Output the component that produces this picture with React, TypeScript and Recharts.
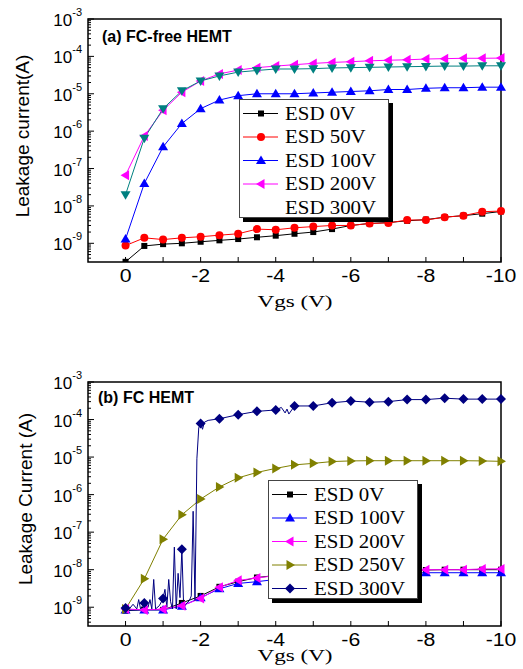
import React from 'react';
import { LineChart, Line, XAxis, YAxis, ReferenceArea, Legend } from 'recharts';

// gate sweep, V
const vgs = [0, -0.5, -1, -1.5, -2, -2.5, -3, -3.5, -4, -4.5, -5, -5.5, -6, -6.5, -7, -7.5, -8, -8.5, -9, -9.5, -10];

// (a) FC-free HEMT, leakage current in A
const freeEsd0 = [3.2e-10, 8.5e-10, 9.5e-10, 1.0e-9, 1.1e-9, 1.2e-9, 1.3e-9, 1.45e-9, 1.6e-9, 1.8e-9, 2.0e-9, 2.4e-9, 3.0e-9, 3.4e-9, 3.6e-9, 4.0e-9, 4.3e-9, 5.0e-9, 5.5e-9, 6.2e-9, 7.1e-9];
const freeEsd50 = [8.7e-10, 1.4e-9, 1.26e-9, 1.4e-9, 1.5e-9, 1.65e-9, 1.8e-9, 2.4e-9, 2.3e-9, 2.6e-9, 2.8e-9, 3.0e-9, 3.0e-9, 3.4e-9, 3.5e-9, 4.2e-9, 4.2e-9, 5.0e-9, 5.5e-9, 7.0e-9, 7.3e-9];
const freeEsd100 = [1.3e-9, 4.0e-8, 3.8e-7, 1.6e-6, 4.0e-6, 6.8e-6, 8.9e-6, 1.0e-5, 1.0e-5, 1.0e-5, 1.05e-5, 1.1e-5, 1.15e-5, 1.2e-5, 1.3e-5, 1.3e-5, 1.4e-5, 1.45e-5, 1.45e-5, 1.5e-5, 1.5e-5];
const freeEsd200 = [6.6e-8, 7.4e-7, 3.6e-6, 1.1e-5, 2.2e-5, 3.4e-5, 4.3e-5, 5.0e-5, 5.5e-5, 6.0e-5, 6.5e-5, 6.9e-5, 7.2e-5, 7.6e-5, 7.9e-5, 8.1e-5, 8.5e-5, 8.7e-5, 8.9e-5, 8.9e-5, 9.0e-5];
const freeEsd300 = [2.0e-8, 6.5e-7, 4.0e-6, 1.2e-5, 2.2e-5, 3.0e-5, 3.8e-5, 4.2e-5, 4.6e-5, 4.6e-5, 4.7e-5, 4.9e-5, 5.0e-5, 5.1e-5, 5.2e-5, 5.3e-5, 5.4e-5, 5.5e-5, 5.5e-5, 5.6e-5, 5.6e-5];

// (b) FC HEMT
const fcEsd0 = [8.1e-10, 8.5e-10, 8.5e-10, 1.3e-9, 2.0e-9, 3.5e-9, 4.8e-9, 6.2e-9, 7.0e-9, 7.8e-9, 8.3e-9, 8.7e-9, 9.0e-9, 9.3e-9, 9.5e-9, 9.7e-9, 9.8e-9, 1.0e-8, 1.0e-8, 1.0e-8, 1.0e-8];
const fcEsd100 = [8.5e-10, 8.5e-10, 8.5e-10, 1.07e-9, 1.8e-9, 3.1e-9, 4.3e-9, 4.8e-9, 5.5e-9, 6.0e-9, 6.6e-9, 7.1e-9, 7.5e-9, 7.8e-9, 8.0e-9, 8.2e-9, 8.3e-9, 8.3e-9, 8.3e-9, 8.3e-9, 8.3e-9];
const fcEsd200 = [9.0e-10, 8.5e-10, 8.9e-10, 1.1e-9, 1.7e-9, 3.4e-9, 5.2e-9, 6.0e-9, 7.0e-9, 7.7e-9, 8.3e-9, 8.8e-9, 9.2e-9, 9.5e-9, 9.7e-9, 9.9e-9, 1.0e-8, 1.0e-8, 1.0e-8, 1.05e-8, 1.05e-8];
const fcEsd250 = [9.0e-10, 5.7e-9, 6.5e-8, 2.9e-7, 7.6e-7, 1.6e-6, 2.8e-6, 3.9e-6, 5.0e-6, 6.2e-6, 6.8e-6, 7.6e-6, 7.9e-6, 8.0e-6, 8.0e-6, 8.0e-6, 8.0e-6, 8.0e-6, 8.0e-6, 7.9e-6, 7.7e-6];
// ESD 300V is a noisy trace: [Vgs, I]
const fcEsd300Trace: [number, number][] = [
  [0, 9.5e-10], [-0.1, 9e-10], [-0.2, 1.2e-9], [-0.3, 9e-10], [-0.35, 1.6e-9], [-0.4, 9e-10],
  [-0.5, 1.3e-9], [-0.6, 1.0e-9], [-0.65, 1.6e-9], [-0.7, 9e-10], [-0.75, 5.5e-9], [-0.8, 9e-10],
  [-0.9, 1.1e-9], [-1, 1.7e-9], [-1.05, 3e-9], [-1.1, 1.0e-9], [-1.15, 5.5e-9], [-1.2, 1.4e-9],
  [-1.25, 9e-10], [-1.3, 4e-8], [-1.35, 9e-10], [-1.4, 8e-9], [-1.45, 1.8e-9], [-1.5, 3.5e-8],
  [-1.55, 9e-10], [-1.6, 1.2e-9], [-1.7, 1.5e-9], [-1.75, 2e-9], [-1.8, 3.6e-7], [-1.85, 1.5e-9],
  [-1.9, 9e-6], [-1.95, 6e-5], [-2, 7.9e-5], [-2.05, 5.5e-5], [-2.1, 8.5e-5], [-2.2, 9.5e-5],
  [-2.5, 1.05e-4], [-3, 1.35e-4], [-3.5, 1.65e-4], [-4, 1.8e-4], [-4.15, 2.1e-4], [-4.25, 1.5e-4],
  [-4.3, 1.9e-4], [-4.35, 1.4e-4], [-4.5, 2.3e-4], [-5, 2.3e-4], [-5.5, 2.8e-4], [-6, 3.1e-4],
  [-6.5, 2.9e-4], [-7, 3.0e-4], [-7.5, 3.4e-4], [-8, 3.4e-4], [-8.5, 3.7e-4], [-9, 3.5e-4],
  [-9.5, 3.5e-4], [-10, 3.5e-4],
];

const xTicks = [0, -1, -2, -3, -4, -5, -6, -7, -8, -9, -10];
const decades = [-10, -9, -8, -7, -6, -5, -4, -3];
const Y_MIN = Math.pow(10, -9.5);
const Y_MAX = 1e-3;
const yTicks = decades
  .flatMap((d) => [1, 2, 3, 4, 5, 6, 7, 8, 9].map((m) => m * Math.pow(10, d)))
  .filter((v) => v >= Y_MIN && v <= Y_MAX * 1.0001);

const SANS = "'Liberation Sans', Arial, sans-serif";
const SERIF = "'Liberation Serif', 'Times New Roman', serif";

type Shape = 'square' | 'circle' | 'up' | 'down' | 'left' | 'right' | 'diamond' | 'none';

const seriesA = [
  { key: 'esd0', name: 'ESD 0V', color: '#000000', shape: 'square' as Shape, values: freeEsd0 },
  { key: 'esd50', name: 'ESD 50V', color: '#ff0000', shape: 'circle' as Shape, values: freeEsd50 },
  { key: 'esd100', name: 'ESD 100V', color: '#0000ff', shape: 'up' as Shape, values: freeEsd100 },
  { key: 'esd200', name: 'ESD 200V', color: '#ff00ff', shape: 'left' as Shape, values: freeEsd200 },
  { key: 'esd300', name: 'ESD 300V', color: '#008080', shape: 'down' as Shape, values: freeEsd300 },
];

const seriesB = [
  { key: 'esd0', name: 'ESD 0V', color: '#000000', shape: 'square' as Shape, values: fcEsd0 },
  { key: 'esd100', name: 'ESD 100V', color: '#0000ff', shape: 'up' as Shape, values: fcEsd100 },
  { key: 'esd200', name: 'ESD 200V', color: '#ff00ff', shape: 'left' as Shape, values: fcEsd200 },
  { key: 'esd250', name: 'ESD 250V', color: '#808000', shape: 'right' as Shape, values: fcEsd250 },
];
const navy = '#000080';

const tableA = vgs.map((v, i) => ({ v, ...Object.fromEntries(seriesA.map((s) => [s.key, s.values[i]])) }));
const tableB = vgs.map((v, i) => ({ v, ...Object.fromEntries(seriesB.map((s) => [s.key, s.values[i]])) }));
const trace300 = fcEsd300Trace.map(([v, i]) => ({ v, esd300: i }));

const Marker = ({ shape, cx, cy, color }: { shape: Shape; cx: number; cy: number; color: string }) => {
  switch (shape) {
    case 'square':
      return <rect x={cx - 3} y={cy - 3} width={6} height={6} fill={color} />;
    case 'circle':
      return <circle cx={cx} cy={cy} r={4} fill={color} />;
    case 'up':
      return <polygon points={`${cx},${cy - 5} ${cx - 5},${cy + 3.5} ${cx + 5},${cy + 3.5}`} fill={color} />;
    case 'down':
      return <polygon points={`${cx},${cy + 5} ${cx - 5},${cy - 3.5} ${cx + 5},${cy - 3.5}`} fill={color} />;
    case 'left':
      return <polygon points={`${cx - 5},${cy} ${cx + 3.5},${cy - 5} ${cx + 3.5},${cy + 5}`} fill={color} />;
    case 'right':
      return <polygon points={`${cx + 5},${cy} ${cx - 3.5},${cy - 5} ${cx - 3.5},${cy + 5}`} fill={color} />;
    case 'diamond':
      return <polygon points={`${cx},${cy - 5} ${cx + 5},${cy} ${cx},${cy + 5} ${cx - 5},${cy}`} fill={color} />;
    default:
      return null;
  }
};

const makeDot = (shape: Shape, color: string, halfVoltOnly = false) => (p: any) => {
  const v = p.payload?.v ?? 0;
  const onGrid = Math.abs(v * 2 - Math.round(v * 2)) < 1e-6;
  if (p.cx == null || p.cy == null || (halfVoltOnly && !onGrid)) return <g key={`d${p.index}`} />;
  return (
    <g key={`d${p.index}`}>
      <Marker shape={shape} cx={p.cx} cy={p.cy} color={color} />
    </g>
  );
};

const PLOT_LEFT = 88;

const YTick = (props: any) => {
  const { y, payload } = props;
  const lg = Math.log10(payload.value);
  const exp = Math.round(lg);
  const major = Math.abs(lg - exp) < 1e-6;
  return (
    <g>
      <line x1={PLOT_LEFT} x2={PLOT_LEFT + (major ? 6 : 3)} y1={y} y2={y} stroke="#000" strokeWidth={1} />
      {major && (
        <text x={PLOT_LEFT - 6} y={y + 7} textAnchor="end" fontFamily={SANS} fontSize={17} fill="#000">
          10<tspan dy={-10} fontSize={11}>{`${exp}`}</tspan>
        </text>
      )}
    </g>
  );
};

const XTick = (props: any) => {
  const { x, y, payload } = props;
  const val = payload.value;
  return (
    <g>
      <line x1={x} x2={x} y1={y} y2={y - 5} stroke="#000" strokeWidth={1} />
      {val % 2 === 0 && (
        <text transform={`translate(${x},${y + 19.5}) scale(1.12,1)`} textAnchor="middle" fontFamily={SANS} fontSize={19} fill="#000">
          {`${val === 0 ? 0 : val}`}
        </text>
      )}
    </g>
  );
};

const LegendBox = ({ items }: { items: { name: string; color: string; shape: Shape }[] }) => (
  <div style={{ width: 148, height: 117, border: '1px solid #444', background: '#fff', boxShadow: '4px 4px 0 #000' }}>
    <svg width={148} height={117} style={{ display: 'block', overflow: 'visible' }}>
      {items.map((it, k) => {
        const cy = 13.5 + k * 23.5;
        return (
          <g key={it.name}>
            {it.shape !== 'none' && <line x1={3} x2={38} y1={cy} y2={cy} stroke={it.color} strokeWidth={1} />}
            {it.shape !== 'none' && <Marker shape={it.shape} cx={21} cy={cy} color={it.color} />}
            <text transform={`translate(45,${cy + 6}) scale(1.1,1)`} fontFamily={SERIF} fontSize={19} fill="#000">
              {it.name}
            </text>
          </g>
        );
      })}
    </svg>
  </div>
);

const legendA = seriesA.map((s) => ({ name: s.name, color: s.color, shape: s.key === 'esd300' ? ('none' as Shape) : s.shape }));
const legendB = [...seriesB.map((s) => ({ name: s.name, color: s.color, shape: s.shape })), { name: 'ESD 300V', color: navy, shape: 'diamond' as Shape }];

const axes = () => [
  <XAxis
    key="x"
    dataKey="v"
    type="number"
    domain={[-10, 1]}
    reversed
    ticks={xTicks}
    interval={0}
    height={30}
    tickSize={0}
    tickMargin={0}
    axisLine={false}
    tickLine={false}
    tick={<XTick />}
  />,
  <YAxis
    key="y"
    type="number"
    scale="log"
    domain={[Y_MIN, Y_MAX]}
    allowDataOverflow
    ticks={yTicks}
    interval={0}
    width={60}
    tickSize={0}
    tickMargin={0}
    axisLine={false}
    tickLine={false}
    tick={<YTick />}
  />,
];

export default function App() {
  return (
    <div style={{ position: 'absolute', left: 0, top: 0, width: 523, height: 669, background: '#fff' }}>
      <div style={{ position: 'absolute', left: 0, top: 0 }}>
        <LineChart width={523} height={320} data={tableA} margin={{ top: 19, right: 22, bottom: 28, left: 28 }}>
          {axes()}
          {seriesA.map((s) => (
            <Line
              key={s.key}
              dataKey={s.key}
              type="linear"
              stroke={s.color}
              strokeWidth={1}
              dot={makeDot(s.shape, s.color)}
              isAnimationActive={false}
            />
          ))}
          <ReferenceArea x1={1} x2={-10} y1={Y_MIN} y2={Y_MAX} fill="none" stroke="#000" strokeWidth={1.5} />
          <Legend
            verticalAlign="middle"
            align="center"
            layout="horizontal"
            wrapperStyle={{ left: 239, top: 99, width: 150, height: 119 }}
            content={() => <LegendBox items={legendA} />}
          />
          <text x={102} y={42} fontFamily={SANS} fontSize={16} fontWeight="bold" fill="#000">
            (a) FC-free HEMT
          </text>
          <text transform="translate(29,136) rotate(-90)" textAnchor="middle" fontFamily={SANS} fontSize={19} fill="#000">
            Leakage current(A)
          </text>
          <text x={295} y={307} textAnchor="middle" fontFamily={SERIF} fontSize={17} textLength={75} lengthAdjust="spacingAndGlyphs" fill="#000">
            Vgs (V)
          </text>
        </LineChart>
      </div>
      <div style={{ position: 'absolute', left: 0, top: 340 }}>
        <LineChart width={523} height={329} data={tableB} margin={{ top: 42, right: 22, bottom: 13, left: 28 }}>
          {axes()}
          {seriesB.map((s) => (
            <Line
              key={s.key}
              dataKey={s.key}
              type="linear"
              stroke={s.color}
              strokeWidth={1}
              dot={makeDot(s.shape, s.color)}
              isAnimationActive={false}
            />
          ))}
          <Line
            data={trace300}
            dataKey="esd300"
            type="linear"
            stroke={navy}
            strokeWidth={1}
            dot={makeDot('diamond', navy, true)}
            isAnimationActive={false}
          />
          <ReferenceArea x1={1} x2={-10} y1={Y_MIN} y2={Y_MAX} fill="none" stroke="#000" strokeWidth={1.5} />
          <Legend
            verticalAlign="middle"
            align="center"
            layout="horizontal"
            wrapperStyle={{ left: 268, top: 140, width: 150, height: 119 }}
            content={() => <LegendBox items={legendB} />}
          />
          <text x={98} y={63} fontFamily={SANS} fontSize={16} fontWeight="bold" fill="#000">
            (b) FC HEMT
          </text>
          <text transform="translate(32,159) rotate(-90)" textAnchor="middle" fontFamily={SANS} fontSize={19} fill="#000">
            Leakage Current (A)
          </text>
          <text x={295} y={321} textAnchor="middle" fontFamily={SERIF} fontSize={17} textLength={75} lengthAdjust="spacingAndGlyphs" fill="#000">
            Vgs (V)
          </text>
        </LineChart>
      </div>
    </div>
  );
}
